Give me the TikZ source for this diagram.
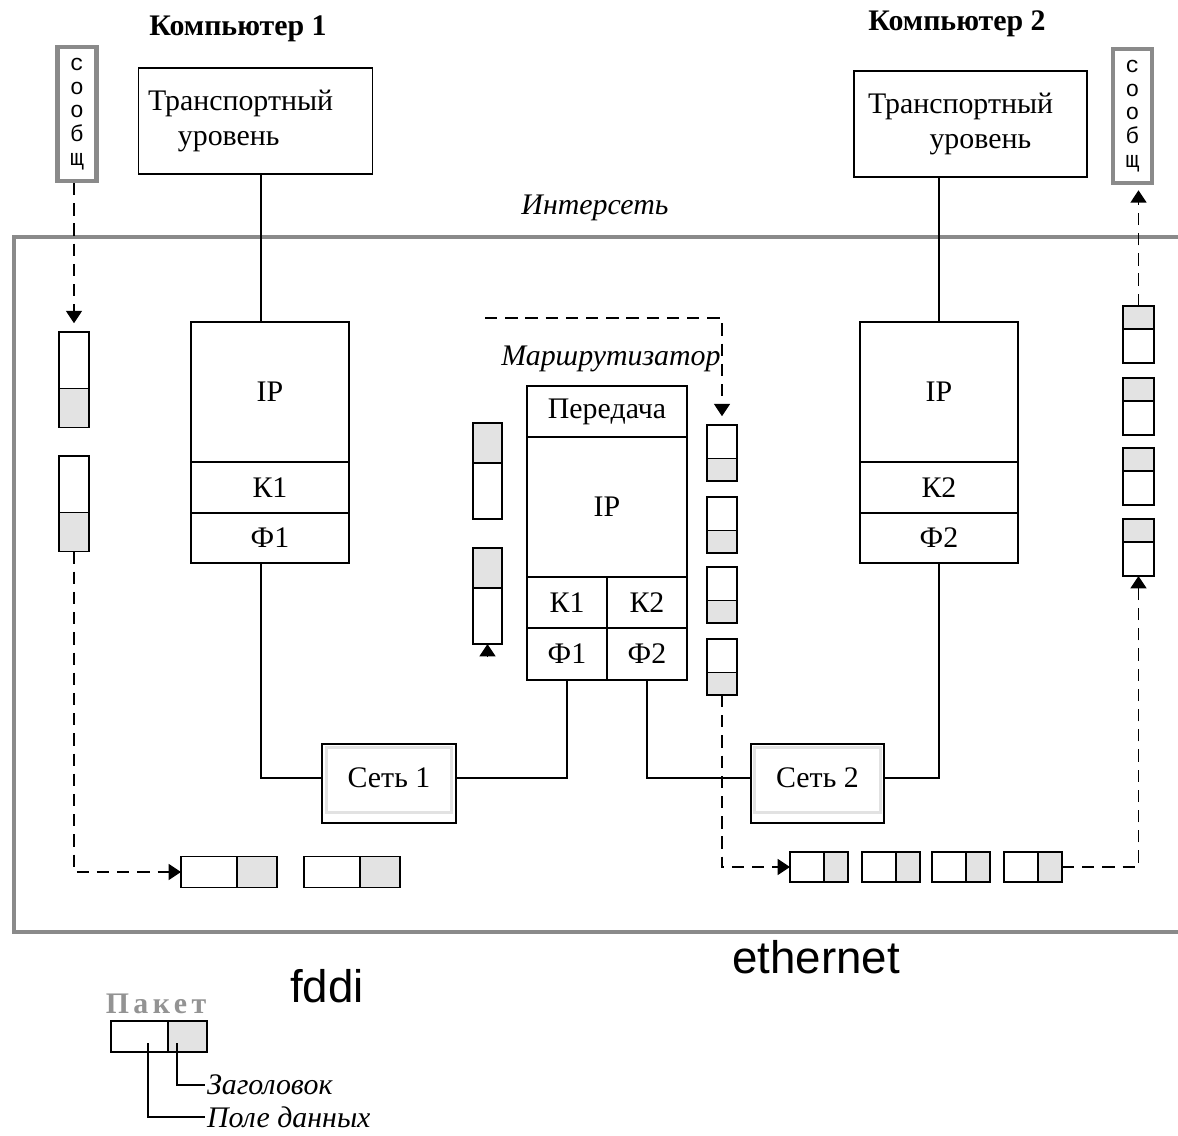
\documentclass[tikz,border=0pt]{standalone}
\usepackage{fontspec}
\setmainfont{Liberation Serif}
\newfontfamily\latinsans{Liberation Sans}
\newfontfamily\msgfamily{Liberation Mono}
\usetikzlibrary{arrows.meta,positioning}
\definecolor{framegray}{HTML}{8A8A8A}
\definecolor{hdrgray}{HTML}{E3E3E3}
\definecolor{netgray}{HTML}{E2E2E2}
\definecolor{labelgray}{HTML}{939393}
\newcommand{\diagfont}{\fontsize{17}{20}\selectfont}

\begin{document}
\begin{tikzpicture}[x=0.02cm, y=-0.02cm,
  lvl/.style={draw, line width=1pt, inner sep=0pt, outer sep=0pt, font=\diagfont},
  pkw/.style 2 args={draw, line width=1pt, fill=white, inner sep=0pt, outer sep=0pt,
    minimum width=#1, minimum height=#2},
  pkg/.style 2 args={pkw={#1}{#2}, fill=hdrgray},
  wire/.style={line width=1pt},
  flow/.style={line width=1pt, dash pattern=on 7pt off 4.5pt,
    -{Triangle[length=7pt,width=9pt]}},
  msgbox/.style={draw=framegray, line width=2.3pt, inner sep=0pt,
    minimum width=0.78cm, minimum height=2.68cm, align=center,
    font=\msgfamily\fontsize{13}{13.5}\selectfont}]
\useasboundingbox (0,0) rectangle (1178,1136);

% internet frame
\draw[framegray, line width=2.6pt] (1178,237) -- (14,237) -- (14,932) -- (1178,932);

\node[font=\bfseries\diagfont, anchor=base] (pc1) at (238,35) {Компьютер 1};
\node[font=\bfseries\diagfont, anchor=base] (pc2) at (957,30) {Компьютер 2};
\node[font=\itshape\diagfont, anchor=base] (inet) at (595,214) {Интерсеть};

% transport level
\node[lvl, minimum height=2.12cm, text width=4.3cm, inner xsep=0.19cm, align=left] (tr1) at (255.5,121)
  {Транспортный\\\hspace*{17pt}уровень};
\node[lvl, minimum height=2.12cm, text width=4.1cm, inner xsep=0.28cm, align=left] (tr2) at (970.5,124)
  {Транспортный\\\hspace*{35pt}уровень};

\node[msgbox] (msg1) at (77,114) {с\\о\\о\\б\\щ};
\node[msgbox] (msg2) at (1132.5,116) {с\\о\\о\\б\\щ};

% computer 1
\node[lvl, minimum width=3.16cm, minimum height=2.8cm] (ip1) at (270,392) {IP};
\node[lvl, minimum width=3.16cm, minimum height=1.02cm, below=0pt of ip1] (k1) {К1};
\node[lvl, minimum width=3.16cm, minimum height=1.0cm, below=0pt of k1] (f1) {Ф1};

% computer 2
\node[lvl, minimum width=3.16cm, minimum height=2.8cm] (ip2) at (939,392) {IP};
\node[lvl, minimum width=3.16cm, minimum height=1.02cm, below=0pt of ip2] (k2) {К2};
\node[lvl, minimum width=3.16cm, minimum height=1.0cm, below=0pt of k2] (f2) {Ф2};

% router
\node[font=\itshape\diagfont, anchor=base] (rlab) at (611,365) {Маршрутизатор};
\node[lvl, minimum width=3.2cm, minimum height=1.02cm] (rt) at (607,411.5) {Передача};
\node[lvl, minimum width=3.2cm, minimum height=2.8cm, below=0pt of rt] (rip) {IP};
\node[lvl, minimum width=1.6cm, minimum height=1.02cm, below right=0pt of rip.south west] (rk1) {К1};
\node[lvl, minimum width=1.6cm, minimum height=1.02cm, right=0pt of rk1] (rk2) {К2};
\node[lvl, minimum width=1.6cm, minimum height=1.04cm, below=0pt of rk1] (rf1) {Ф1};
\node[lvl, minimum width=1.6cm, minimum height=1.04cm, below=0pt of rk2] (rf2) {Ф2};

% networks
\node[font=\diagfont, minimum width=2.66cm, minimum height=1.36cm, inner sep=0pt] (s1) at (389,778) {Сеть 1};
\node[font=\diagfont, minimum width=2.66cm, minimum height=1.36cm, inner sep=0pt] (s2) at (817.5,778) {Сеть 2};
\foreach \n in {s1,s2} {
  \draw[netgray, line width=1.6pt] ([shift={(4,4)}]\n.north west) rectangle ([shift={(-4,0)}]\n.south east);
  \draw[wire] (\n.north west) rectangle ([yshift=-0.22cm]\n.south east);
}

% wiring
\coordinate (ln1) at (261,0);
\draw[wire] (tr1.south -| ln1) -- (ip1.north -| ln1);
\draw[wire] (tr2.south -| ip2.north) -- (ip2.north);
\draw[wire] (f1.south -| ln1) |- (s1.west);
\draw[wire] (s1.east) -| (rf1.south);
\draw[wire] (rf2.south) |- (s2.west);
\draw[wire] (s2.east) -| (f2.south);

% packets
\foreach \i/\t in {1/332,2/456} {
  \node[pkw={0.6cm}{1.13cm}, anchor=north] (lp\i-d) at (74,\t) {};
  \node[pkg={0.6cm}{0.78cm}, below=0pt of lp\i-d] (lp\i-h) {};
}
\foreach \i/\t in {1/423,2/548} {
  \node[pkg={0.58cm}{0.8cm}, anchor=north] (rl\i-h) at (487.5,\t) {};
  \node[pkw={0.58cm}{1.12cm}, below=0pt of rl\i-h] (rl\i-d) {};
}
\foreach \i/\t in {1/425,2/497,3/567,4/639} {
  \node[pkw={0.6cm}{0.67cm}, anchor=north] (rr\i-d) at (722,\t) {};
  \node[pkg={0.6cm}{0.45cm}, below=0pt of rr\i-d] (rr\i-h) {};
}
\foreach \i/\t in {1/306,2/378,3/448,4/519} {
  \node[pkg={0.62cm}{0.46cm}, anchor=north] (rc\i-h) at (1138.5,\t) {};
  \node[pkw={0.62cm}{0.68cm}, below=0pt of rc\i-h] (rc\i-d) {};
}
\foreach \i/\l in {1/181,2/304} {
  \node[pkw={1.12cm}{0.62cm}, anchor=west] (bl\i-d) at (\l,872) {};
  \node[pkg={0.8cm}{0.62cm}, right=0pt of bl\i-d] (bl\i-h) {};
}
\foreach \i/\l in {1/790,2/862,3/932,4/1004} {
  \node[pkw={0.68cm}{0.6cm}, anchor=west] (br\i-d) at (\l,867) {};
  \node[pkg={0.48cm}{0.6cm}, right=0pt of br\i-d] (br\i-h) {};
}

% packet paths
\draw[flow, shorten >=5pt] (msg1.south -| lp1-d.north) -- (lp1-d.north);
\draw[flow] (lp2-h.south) |- (bl1-d.west);
\coordinate (rsrc) at (485,318);
\draw[flow, shorten >=5pt] (rsrc) -| (rr1-d.north);
\coordinate (rarr) at (487.5,657);
\draw[wire, -{Triangle[length=7pt,width=9pt]}] (rarr) -- (rl2-d.south);
\draw[flow] (rr4-h.south) |- (br1-d.west);
\draw[flow] (br4-h.east) -| (rc4-d.south);
\draw[flow, shorten >=3pt] (rc1-h.north) -- (msg2.south -| rc1-h.north);

\node[font=\latinsans\fontsize{26}{30}\selectfont, anchor=base] (fddi) at (327,1002) {fddi};
\node[font=\latinsans\fontsize{26}{30}\selectfont, anchor=base] (eth) at (816,973) {ethernet};

% legend
\node[font=\bfseries\diagfont\addfontfeatures{LetterSpace=15}, text=labelgray, anchor=base] (pkt) at (156,1013) {Пакет};
\node[pkw={1.14cm}{0.62cm}, anchor=west] (lg-d) at (111,1036.5) {};
\node[pkg={0.78cm}{0.62cm}, right=0pt of lg-d] (lg-h) {};
\node[font=\itshape\diagfont, anchor=west, inner sep=1pt] (lhdr) at (205,1085) {Заголовок};
\node[font=\itshape\diagfont, anchor=west, inner sep=1pt] (ldat) at (205,1117) {Поле данных};
\coordinate (lh0) at (177,1043);
\coordinate (ld0) at (148,1043);
\draw[wire] (lh0) |- (lhdr.west);
\draw[wire] (ld0) |- (ldat.west);
\end{tikzpicture}
\end{document}
